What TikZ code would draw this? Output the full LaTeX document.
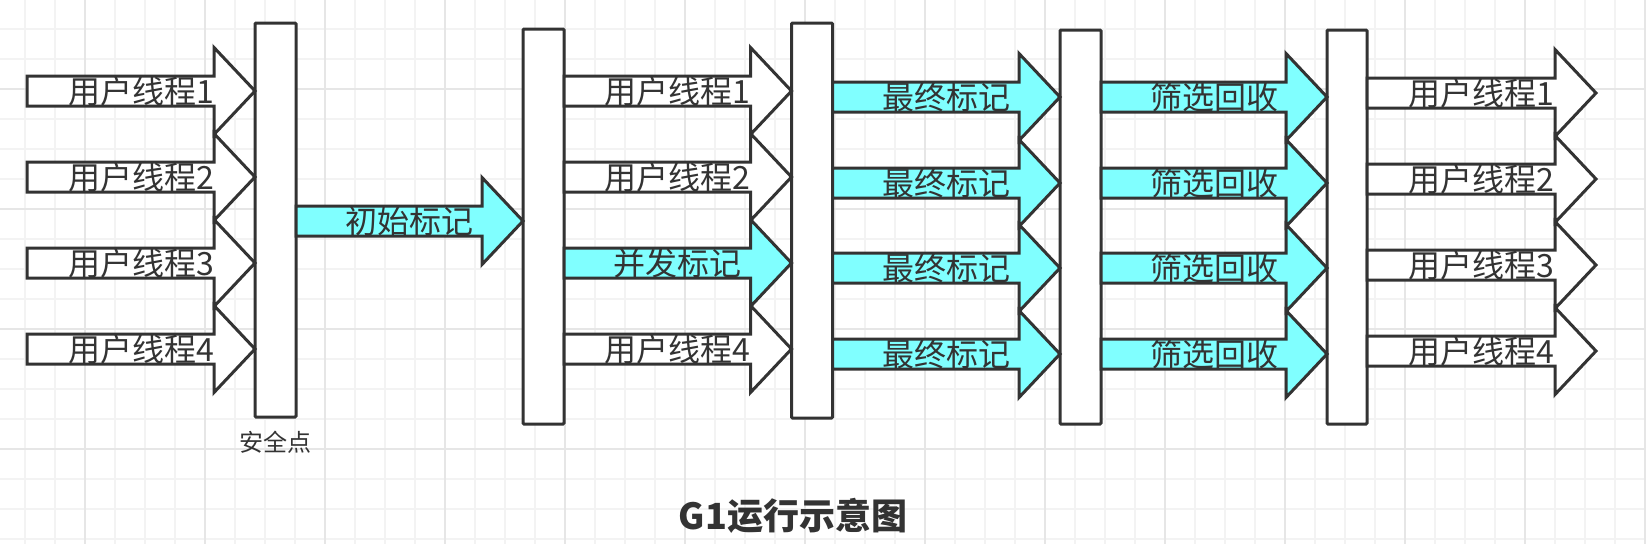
\documentclass[tikz,border=0pt]{standalone}
\usepackage{fontspec}
\newfontfamily\cjk{Noto Sans CJK SC}
\usetikzlibrary{calc}
\definecolor{ink}{HTML}{333333}
\definecolor{cyanfill}{HTML}{80FFFF}
\definecolor{gridminor}{HTML}{F3F3F3}
\definecolor{gridmajor}{HTML}{E6E6E6}
% #1 start point, #2 tip point (its y is the arrow axis), #3 fill, #4 label node name, #5 label
\newcommand{\blockarrow}[5]{%
  \draw[arrowline,fill=#3] let \p1=(#1), \p2=(#2) in
    (\x1,\y2+15pt) -- (\x2-41pt,\y2+15pt) -- (\x2-41pt,\y2+43.5pt) -- (\x2,\y2)
    -- (\x2-41pt,\y2-43.5pt) -- (\x2-41pt,\y2-15pt) -- (\x1,\y2-15pt) -- cycle;
  \path let \p1=(#1), \p2=(#2) in
    node[lbl] (#4) at ({0.5*(\x1+\x2)},{\y2-12pt}) {#5};
}
\begin{document}
\begin{tikzpicture}[x=1pt,y=-1pt,
  bar/.style={draw=ink, fill=white, line width=3pt, minimum width=41pt,
    minimum height=394pt, inner sep=0pt, outer sep=0pt, rounded corners=1pt},
  arrowline/.style={draw=ink, line width=3pt, line join=miter},
  lbl/.style={font=\cjk\fontsize{32}{32}\selectfont, text=ink, anchor=base, inner sep=0pt},
  gminor/.style={draw=gridminor, line width=1.5pt},
  gmajor/.style={draw=gridmajor, line width=1.5pt}]
% canvas
\fill[white] (0,0) rectangle (1646,544);
\useasboundingbox (0,0) rectangle (1646,544);
\foreach \gx in {25,55,...,1645} \draw[gminor] (\gx,0) -- (\gx,544);
\foreach \gy in {29,59,...,539} \draw[gminor] (0,\gy) -- (1646,\gy);
\foreach \gx in {85,205,...,1645} \draw[gmajor] (\gx,0) -- (\gx,544);
\foreach \gy in {89,209,...,449} \draw[gmajor] (0,\gy) -- (1646,\gy);
% bars
\node[bar] (b1) at (275.5,220) {};
\node[bar, minimum height=395pt] (b2) at (543.5,226.5) {};
\node[bar, minimum height=395pt] (b3) at (812,220.5) {};
\node[bar] (b4) at (1080.5,227) {};
\node[bar, minimum width=40pt] (b5) at (1347,227) {};
\coordinate (ls) at (27,0);
\coordinate (re) at (1596,0);
% left user threads
\blockarrow{ls |- 0,91}{b1.west |- 0,91}{white}{ua1}{用户线程1}
\blockarrow{ls |- 0,177}{b1.west |- 0,177}{white}{ua2}{用户线程2}
\blockarrow{ls |- 0,263}{b1.west |- 0,263}{white}{ua3}{用户线程3}
\blockarrow{ls |- 0,349}{b1.west |- 0,349}{white}{ua4}{用户线程4}
% initial marking
\blockarrow{b1.east |- 0,221}{b2.west |- 0,221}{cyanfill}{init}{初始标记}
% middle
\blockarrow{b2.east |- 0,91}{b3.west |- 0,91}{white}{ub1}{用户线程1}
\blockarrow{b2.east |- 0,177}{b3.west |- 0,177}{white}{ub2}{用户线程2}
\blockarrow{b2.east |- 0,263}{b3.west |- 0,263}{cyanfill}{conc}{并发标记}
\blockarrow{b2.east |- 0,349}{b3.west |- 0,349}{white}{ub4}{用户线程4}
% final marking
\blockarrow{b3.east |- 0,97}{b4.west |- 0,97}{cyanfill}{fm1}{最终标记}
\blockarrow{b3.east |- 0,183}{b4.west |- 0,183}{cyanfill}{fm2}{最终标记}
\blockarrow{b3.east |- 0,268}{b4.west |- 0,268}{cyanfill}{fm3}{最终标记}
\blockarrow{b3.east |- 0,354}{b4.west |- 0,354}{cyanfill}{fm4}{最终标记}
% screening
\blockarrow{b4.east |- 0,97}{b5.west |- 0,97}{cyanfill}{sc1}{筛选回收}
\blockarrow{b4.east |- 0,183}{b5.west |- 0,183}{cyanfill}{sc2}{筛选回收}
\blockarrow{b4.east |- 0,268}{b5.west |- 0,268}{cyanfill}{sc3}{筛选回收}
\blockarrow{b4.east |- 0,354}{b5.west |- 0,354}{cyanfill}{sc4}{筛选回收}
% right user threads
\blockarrow{b5.east |- 0,93}{re |- 0,93}{white}{uc1}{用户线程1}
\blockarrow{b5.east |- 0,179}{re |- 0,179}{white}{uc2}{用户线程2}
\blockarrow{b5.east |- 0,265}{re |- 0,265}{white}{uc3}{用户线程3}
\blockarrow{b5.east |- 0,351}{re |- 0,351}{white}{uc4}{用户线程4}
% texts
\node[font=\cjk\fontsize{24}{24}\selectfont, text=ink, anchor=base, inner sep=0pt] (sp) at (275.5,451) {安全点};
\node[font=\cjk\bfseries\fontsize{36}{36}\selectfont, text=ink, anchor=base, inner sep=0pt] (title) at (793,529) {G1运行示意图};
\end{tikzpicture}
\end{document}
